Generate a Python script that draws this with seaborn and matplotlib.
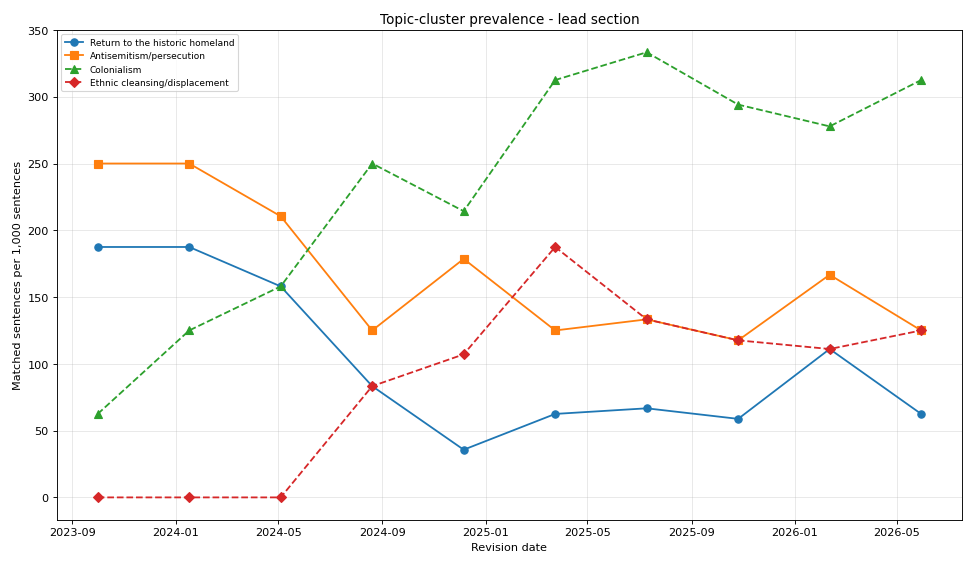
import numpy as np
import pandas as pd
import matplotlib
matplotlib.use("Agg")
import matplotlib.pyplot as plt
import matplotlib.dates as mdates
import seaborn as sns

# revision dates and prevalence per topic cluster
dates = pd.to_datetime([
    "2023-10-01", "2024-01-17", "2024-05-04", "2024-08-20", "2024-12-06",
    "2025-03-24", "2025-07-10", "2025-10-26", "2026-02-11", "2026-05-30",
])
homeland = [187.5, 187.5, 158.0, 83.3, 35.7, 62.5, 66.7, 58.8, 111.1, 62.5]
antisemitism = [250.0, 250.0, 210.5, 125.0, 178.6, 125.0, 133.3, 117.6, 166.7, 125.0]
colonialism = [62.5, 125.0, 158.0, 250.0, 214.3, 312.5, 333.3, 294.1, 277.8, 312.5]
cleansing = [0.0, 0.0, 0.0, 83.3, 107.1, 187.5, 133.3, 117.6, 111.1, 125.0]

labels = ["Return to the historic homeland", "Antisemitism/persecution",
          "Colonialism", "Ethnic cleansing/displacement"]
series = [homeland, antisemitism, colonialism, cleansing]

plt.rcParams["font.family"] = ["DejaVu Sans"]

fig, ax = plt.subplots(figsize=(12, 7), dpi=81.25)

colors = ["#1f77b4", "#ff7f0e", "#2ca02c", "#d62728"]
markers = ["o", "s", "^", "D"]
styles = ["-", "-", "--", "--"]

for vals, lab, c, m, ls in zip(series, labels, colors, markers, styles):
    sns.lineplot(x=dates, y=vals, ax=ax, color=c, marker=m, linestyle=ls,
                 markersize=6.5, markeredgecolor=c, markeredgewidth=1,
                 linewidth=1.6, label=lab)

ax.xaxis.set_major_locator(mdates.MonthLocator(bymonth=[1, 5, 9]))
ax.xaxis.set_major_formatter(mdates.DateFormatter("%Y-%m"))
ax.set_ylim(-16.67, 350.001)
ax.grid(True, color="#b0b0b0", alpha=0.3)

ax.set_title("Topic-cluster prevalence - lead section", fontsize=12)
ax.set_xlabel("Revision date")
ax.set_ylabel("Matched sentences per 1,000 sentences")
ax.legend(loc="upper left", fontsize=8)

fig.subplots_adjust(left=0.058, right=0.987, top=0.946, bottom=0.085)
fig.savefig("out.png", dpi=81.25)
